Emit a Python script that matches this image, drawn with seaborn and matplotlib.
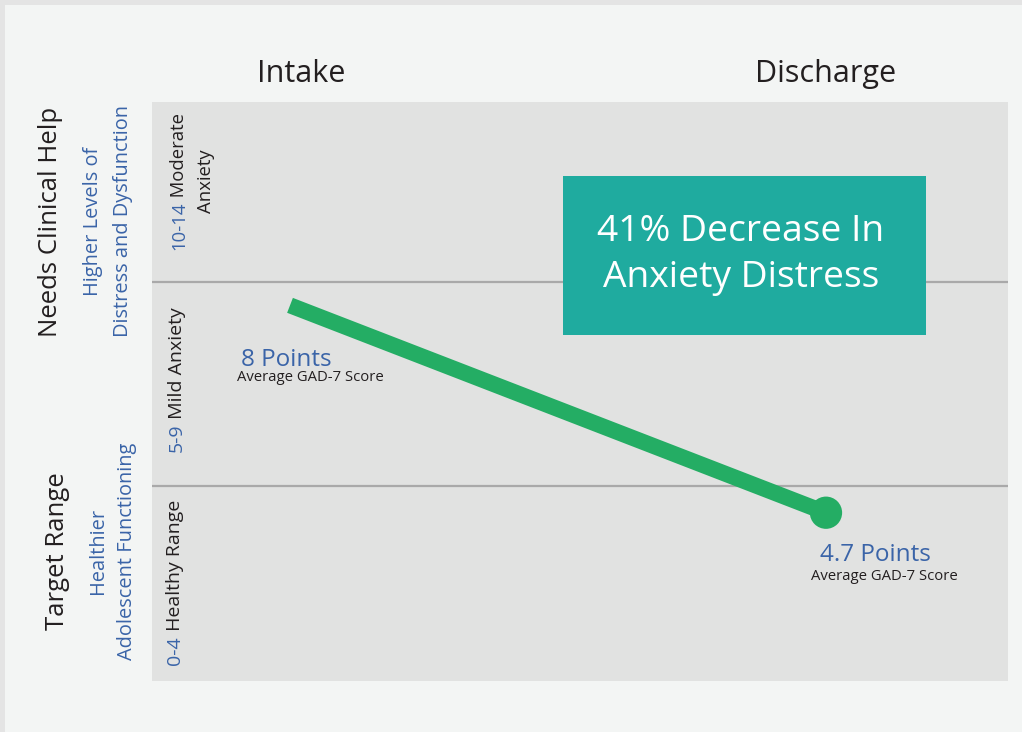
import matplotlib
matplotlib.use("Agg")
import matplotlib.pyplot as plt
import matplotlib.transforms as mtransforms
from matplotlib.patches import Rectangle
import seaborn as sns
import pandas as pd

# ---------------- data ----------------
stages = ["Intake", "Discharge"]
scores = [8.0, 4.7]
score_labels = ["8 Points", "4.7 Points"]
score_caption = "Average GAD-7 Score"
band_edges = [5.13, 8.37]          # band boundaries on the chart's value scale
band_ranges = ["0-4", "5-9", "10-14"]
band_names = ["Healthy Range", "Mild Anxiety", "Moderate"]
group_titles = ["Target Range", "Needs Clinical Help"]
group_notes = [["Healthier", "Adolescent Functioning"],
               ["Higher Levels of", "Distress and Dysfunction"]]
headline = ["41% Decrease In", "Anxiety Distress"]

# ---------------- style ----------------
sns.set_theme(style="white")
plt.rcParams["font.family"] = ["Open Sans", "DejaVu Sans"]

W, H = 1022, 732
BLACK = "#231f20"
BLUE = "#3a64a8"
GREEN = "#24ad64"
TEAL = "#1fab9f"
PLOT_BG = "#e1e2e1"
PANEL = "#f3f5f4"
FRAME = "#e4e4e4"

fig = plt.figure(figsize=(W / 100, H / 100), dpi=100, facecolor=FRAME)
fig.patches.append(Rectangle((5 / W, 0), 1 - 5 / W, 1 - 5 / H, transform=fig.transFigure,
                             facecolor=PANEL, edgecolor="none", zorder=-10))


def px(x, y):
    return x / W, 1 - y / H


ax = fig.add_axes([152 / W, (H - 681) / H, (1008 - 152) / W, (681 - 102) / H])
ax.set_facecolor(PLOT_BG)
for s in ax.spines.values():
    s.set_visible(False)

df = pd.DataFrame({"pos": range(len(stages)), "stage": stages, "score": scores})

ax.set_xlim(-0.2575, 1.3396)
ax.set_ylim(2.022, 11.236)

for e in band_edges:
    ax.axhline(e, color="#a9a9a9", lw=1.6, zorder=1)

sns.lineplot(data=df, x="pos", y="score", ax=ax, color=GREEN, lw=11.5,
             solid_capstyle="butt", zorder=3)
sns.scatterplot(data=df.iloc[[-1]], x="pos", y="score", ax=ax, color=GREEN,
                s=540, edgecolor="none", zorder=4)

ax.set_xlabel("")
ax.set_ylabel("")
ax.set_yticks([])
ax.set_xticks(df["pos"], stages)
ax.xaxis.tick_top()
ax.tick_params(axis="x", top=True, bottom=False, length=0, pad=9.4,
               labelsize=22, labelcolor=BLACK)
t0 = ax.xaxis.get_major_ticks()[0].label2
t0.set_transform(t0.get_transform() + mtransforms.ScaledTranslation(0.11, 0, fig.dpi_scale_trans))

# point annotations
offsets = [[(-49, -61), (-53, -76)], [(-6, -48), (-15, -67)]]
for i, (p, sc) in enumerate(zip(df["pos"], df["score"])):
    (dx1, dy1), (dx2, dy2) = offsets[i]
    ax.annotate(score_labels[i], xy=(p, sc), xytext=(dx1, dy1), textcoords="offset pixels",
                ha="left", va="baseline", fontsize=17.5, color=BLUE)
    ax.annotate(score_caption, xy=(p, sc), xytext=(dx2, dy2), textcoords="offset pixels",
                ha="left", va="baseline", fontsize=10.7, color=BLACK)

# headline box
fig.patches.append(Rectangle(px(563, 335), (926 - 563) / W, (335 - 176) / H,
                             transform=fig.transFigure, facecolor=TEAL, edgecolor="none", zorder=5))
for line, yb in zip(headline, [241, 287]):
    fig.text(*px(741, yb), line, ha="center", va="baseline", fontsize=26.8, color="white", zorder=6)

# left group labels
fig.text(*px(51, 221.5), group_titles[1], rotation=90, ha="center", va="center",
         fontsize=18.5, color=BLACK)
fig.text(*px(57, 551.5), group_titles[0], rotation=90, ha="center", va="center",
         fontsize=18.5, color=BLACK)
for txt, xc in zip(group_notes[1], [93, 123]):
    fig.text(*px(xc, 221), txt, rotation=90, ha="center", va="center", fontsize=14.4, color=BLUE)
for txt, xc in zip(group_notes[0], [98, 127]):
    fig.text(*px(xc, 551), txt, rotation=90, ha="center", va="center", fontsize=14.4, color=BLUE)

# band labels (range in blue, name in black)
band_pos = [(175, 665, 14), (177, 452, 14), (179, 250, 13.3)]
for rng, name, (xc, yb, fs) in zip(band_ranges, band_names, band_pos):
    t1 = fig.text(*px(xc, yb), rng, rotation=90, ha="center", va="bottom", fontsize=fs, color=BLUE)
    ax.annotate(" " + name, xy=(0.5, 1), xycoords=t1, ha="center", va="bottom",
                rotation=90, fontsize=fs, color=BLACK, annotation_clip=False)
fig.text(*px(206, 181.5), "Anxiety", rotation=90, ha="center", va="center", fontsize=13.3, color=BLACK)

fig.savefig("out.png", dpi=100, facecolor=fig.get_facecolor())
